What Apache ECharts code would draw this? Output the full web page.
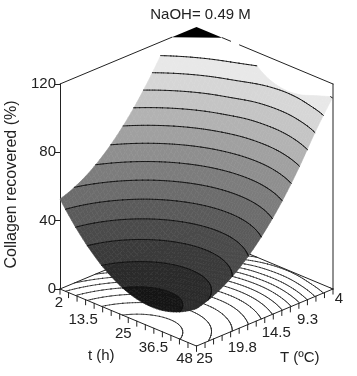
<!DOCTYPE html>
<html>
<head>
<meta charset="utf-8">
<style>
  html, body { margin: 0; padding: 0; background: #fff; }
  #chart { width: 357px; height: 376px; }
</style>
<script src="https://cdn.jsdelivr.net/npm/echarts@6/dist/echarts.min.js"></script>
</head>
<body>
<div id="chart"></div>
<script>
// values
const tValues = [2, 7.75, 13.5, 19.25, 25, 30.75, 36.5, 42.25, 48];
const tempValues = [25, 22.375, 19.75, 17.125, 14.5, 11.875, 9.25, 6.625, 4];
// collagen recovered (%), one row per t, one column per T
const recovered = [
  [52.7, 56.8, 63.3, 72.3, 83.7, 97.6, 113.8, 132.5, 153.7],
  [38.9, 42.9, 49.4, 58.3, 69.6, 83.4, 99.6, 118.2, 139.3],
  [27.9, 31.8, 38.2, 47.0, 58.3, 72.0, 88.1, 106.6, 127.7],
  [19.8, 23.7, 30.0, 38.7, 49.9, 63.5, 79.5, 98.0, 117.0],
  [14.5, 18.3, 24.5, 33.2, 44.3, 57.8, 73.8, 91.0, 108.5],
  [12.1, 15.8, 21.9, 30.5, 41.5, 55.0, 70.9, 88.4, 105.0],
  [12.5, 16.1, 22.2, 30.7, 41.6, 55.0, 70.8, 88.4, 105.5],
  [15.8, 19.4, 25.3, 33.8, 44.6, 57.9, 73.7, 91.4, 109.0],
  [21.9, 25.4, 31.3, 39.6, 50.4, 63.6, 79.3, 97.0, 112.5]
];
const levels = [16, 24, 32, 40, 48, 56, 64, 72, 80, 88, 96, 104, 112];
const bandGrays = ['#141414', '#2a2a2a', '#3a3a3a', '#4a4a4a', '#5a5a5a', '#6c6c6c', '#7c7c7c',
  '#8e8e8e', '#a0a0a0', '#b2b2b2', '#c4c4c4', '#d6d6d6', '#e8e8e8'];
const tTicks = [2, 13.5, 25, 36.5, 48];
const tempTicks = [25, 19.8, 14.5, 9.3, 4];
const zTicks = [0, 40, 80, 120];

// oblique view: floor tilt in units of the z axis
const TILT = 33.4;
const STEPS = 48;
const MINOR = 16;

const toA = t => (t - 2) / 46;
const toB = T => (25 - T) / 21;

// 3d point -> data coords of the hidden x axis / the z axis
const project = (a, b, z) => [a + b, z - TILT * (a - b)];

// smooth lookup inside the read grid, only used to trace the contours
const spline = (p0, p1, p2, p3, s) =>
  0.5 * (2 * p1 + (p2 - p0) * s + (2 * p0 - 5 * p1 + 4 * p2 - p3) * s * s + (3 * p1 - p0 - 3 * p2 + p3) * s * s * s);
const pick = (arr, i) => {
  const n = arr.length;
  if (i < 0) return 3 * arr[0] - 3 * arr[1] + arr[2];
  if (i >= n) return 3 * arr[n - 1] - 3 * arr[n - 2] + arr[n - 3];
  return arr[i];
};
function heightAt(a, b) {
  const n = tValues.length - 1;
  const ia = Math.min(Math.floor(a * n), n - 1), sa = a * n - ia;
  const ib = Math.min(Math.floor(b * n), n - 1), sb = b * n - ib;
  const rows = [];
  for (let k = -1; k <= 2; k++) {
    const col = recovered.map(r => spline(pick(r, ib - 1), r[ib], r[ib + 1], pick(r, ib + 2), sb));
    rows.push(pick(col, ia + k));
  }
  return spline(rows[0], rows[1], rows[2], rows[3], sa);
}

const field = [];
for (let i = 0; i <= STEPS; i++) {
  field.push([]);
  for (let j = 0; j <= STEPS; j++) field[i].push(heightAt(i / STEPS, j / STEPS));
}

function clipPoly(poly, level, keepAbove) {
  const out = [];
  poly.forEach((p, i) => {
    const q = poly[(i + 1) % poly.length];
    const pIn = keepAbove ? p[2] >= level : p[2] <= level;
    const qIn = keepAbove ? q[2] >= level : q[2] <= level;
    if (pIn) out.push(p);
    if (pIn !== qIn) {
      const s = (level - p[2]) / (q[2] - p[2]);
      out.push([p[0] + (q[0] - p[0]) * s, p[1] + (q[1] - p[1]) * s, level]);
    }
  });
  return out;
}

function renderItem(params, api) {
  const at = (a, b, z) => api.coord(project(a, b, z));
  const kids = [];
  const line = (p, q, width, color) => kids.push({
    type: 'line',
    shape: { x1: p[0], y1: p[1], x2: q[0], y2: q[1] },
    style: { stroke: color || '#222', lineWidth: width || 1, lineCap: 'round' }
  });
  const label = (text, p, dx, dy) => kids.push({
    type: 'text',
    x: p[0] + dx,
    y: p[1] + dy,
    style: { text: String(text), fill: '#222', font: '15px "Liberation Sans", Arial, sans-serif', align: 'center', verticalAlign: 'middle' }
  });

  const contourSegments = (onFloor, width, color) => {
    for (let i = 0; i < STEPS; i++) {
      for (let j = 0; j < STEPS; j++) {
        const c = [[i, j], [i + 1, j], [i + 1, j + 1], [i, j + 1]]
          .map(n => [n[0] / STEPS, n[1] / STEPS, field[n[0]][n[1]]]);
        [[c[0], c[1], c[2]], [c[0], c[2], c[3]]].forEach(tri => {
          levels.forEach(level => {
            const hits = [];
            tri.forEach((p, k) => {
              const q = tri[(k + 1) % 3];
              if ((p[2] < level) !== (q[2] < level)) {
                const s = (level - p[2]) / (q[2] - p[2]);
                hits.push([p[0] + (q[0] - p[0]) * s, p[1] + (q[1] - p[1]) * s]);
              }
            });
            if (hits.length === 2) {
              const z = onFloor ? 0 : level;
              line(at(hits[0][0], hits[0][1], z), at(hits[1][0], hits[1][1], z), width, color);
            }
          });
        });
      }
    }
  };

  // floor contours, then the floor outline
  contourSegments(true, 0.8, '#222');
  line(at(0, 0, 0), at(1, 0, 0));
  line(at(1, 0, 0), at(1, 1, 0));
  line(at(1, 1, 0), at(0, 1, 0));
  line(at(0, 1, 0), at(0, 0, 0));

  // ticks hang straight down from the floor edges
  for (let k = 0; k <= MINOR; k++) {
    const s = k / MINOR;
    line(at(s, 0, 0), at(s, 0, -3));
    line(at(1, s, 0), at(1, s, -3));
  }

  // top of the box
  const gap = [toA(13.5), toA(16.5)];
  const cutT = toA(10.7), cutTemp = toB(7.8);
  line(at(0, 0, 120), at(0, cutTemp, 120));
  line(at(cutT, 1, 120), at(gap[0], 1, 120));
  line(at(gap[1], 1, 120), at(1, 1, 120));
  line(at(1, 1, 120), at(1, 1, 0));
  kids.push({
    type: 'polygon',
    shape: { points: [at(0, cutTemp, 120), at(0, 1, 120), at(cutT, 1, 120)] },
    style: { fill: '#000' }
  });

  // surface bands
  for (let i = 0; i < STEPS; i++) {
    for (let j = 0; j < STEPS; j++) {
      const quad = [[i, j], [i + 1, j], [i + 1, j + 1], [i, j + 1]]
        .map(n => [n[0] / STEPS, n[1] / STEPS, field[n[0]][n[1]]]);
      const zs = quad.map(p => p[2]);
      const zMin = Math.min(...zs), zMax = Math.max(...zs);
      bandGrays.forEach((gray, k) => {
        const hi = levels[k], lo = k ? levels[k - 1] : -1000;
        if (zMax < lo || zMin > hi) return;
        const piece = clipPoly(clipPoly(quad, lo, true), hi, false);
        if (piece.length < 3) return;
        kids.push({
          type: 'polygon',
          shape: { points: piece.map(p => at(p[0], p[1], p[2])) },
          style: { fill: gray, stroke: gray, lineWidth: 0.6 }
        });
      });
    }
  }
  contourSegments(false, 0.9, '#111');

  // axis labels on the floor
  const tShift = [[-1, 14], [-11, 17], [-5, 16.5], [-9, 16], [-12, 13]];
  const tempShift = [[8, 13], [12, 16], [11.5, 15.5], [9, 16], [6, 10]];
  tTicks.forEach((t, k) => label(t, at(toA(t), 0, 0), tShift[k][0], tShift[k][1]));
  tempTicks.forEach((T, k) => label(T, at(1, toB(T), 0), tempShift[k][0], tempShift[k][1]));
  label('t (h)', at(toA(25), 0, 0), -27, 38);
  label('T (ºC)', at(1, toB(14.5), 0), 35, 40);

  return { type: 'group', children: kids };
}

const chart = echarts.init(document.getElementById('chart'), null, { renderer: 'canvas' });
chart.setOption({
  animation: false,
  backgroundColor: '#fff',
  title: {
    text: 'NaOH= 0.49 M',
    left: 195.5,
    top: 2,
    textAlign: 'center',
    textStyle: { fontFamily: 'Liberation Sans', fontSize: 15, fontWeight: 'normal', color: '#222' }
  },
  grid: { left: 60, top: 84, width: 273, height: 205, outerBoundsMode: 'none' },
  xAxis: { type: 'value', min: 0, max: 2, show: false },
  yAxis: {
    type: 'value',
    min: 0,
    max: 120,
    interval: 40,
    name: 'Collagen recovered (%)',
    nameLocation: 'middle',
    nameGap: 16,
    nameRotate: 90,
    nameTextStyle: { fontFamily: 'Liberation Sans', fontSize: 16, color: '#222', padding: [0, 0, 0, 4] },
    axisLine: { show: true, lineStyle: { color: '#222', width: 1 } },
    axisTick: { show: true, length: 5, lineStyle: { color: '#222', width: 1 } },
    axisLabel: {
      margin: 4,
      fontFamily: 'Liberation Sans',
      fontSize: 15,
      color: '#222',
      customValues: zTicks
    },
    splitLine: { show: false }
  },
  series: [{
    type: 'custom',
    coordinateSystem: 'cartesian2d',
    clip: false,
    silent: true,
    data: [[0, 0]],
    renderItem: renderItem
  }]
});
</script>
</body>
</html>
